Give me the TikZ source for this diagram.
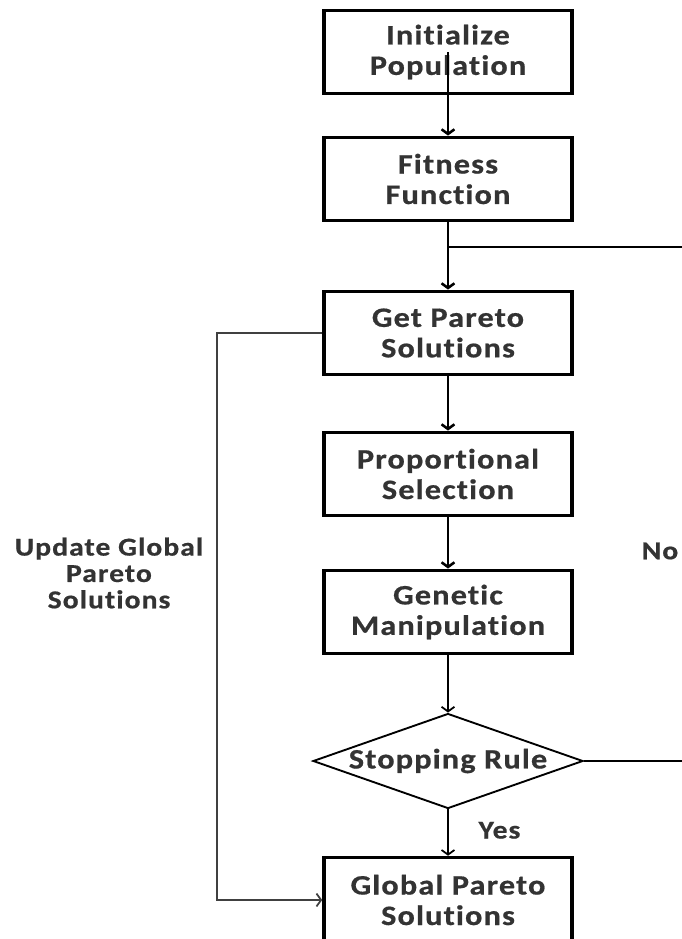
\documentclass[tikz,border=0pt]{standalone}
\usepackage{fontspec}
\setmainfont{Carlito}[LetterSpace=4, Ligatures=NoCommon, FakeStretch=1.15,
	BoldFeatures={FakeBold=0.6}]
\usepackage{tikz}
\usetikzlibrary{shapes.geometric, arrows.meta}

\begin{document}
\begin{tikzpicture}[
	x=0.03cm, y=-0.03cm,
	stepbox/.style={draw, line width=3pt, minimum width=7.44cm, minimum height=2.5cm,
		align=center, font=\fontsize{24}{26}\selectfont\bfseries, text=black!80},
	decision/.style={draw, diamond, line width=1.6pt, aspect=2.84, inner sep=0pt,
		minimum width=8.1cm, minimum height=2.85cm,
		font=\fontsize{24}{26}\selectfont\bfseries, text=black!80},
	lbl/.style={align=center, font=\fontsize{22}{22.5}\selectfont\bfseries, text=black!80},
	flow/.style={line width=2.2pt, -{Straight Barb[length=4pt, width=11pt]}},
	thin flow/.style={line width=1.5pt, -{Straight Barb[length=4pt, width=11pt]}},
	]
	
	\useasboundingbox (0,0) rectangle (682,939);
	
	%% ── Main column ─────────────────────────────────────────────
	\node[stepbox] (ip) at (448,52)  {Initialize\\Population};
	\node[stepbox] (ff) at (448,179) {Fitness\\Function};
	\node[stepbox] (gp) at (448,333) {Get Pareto\\Solutions};
	\node[stepbox] (ps) at (448,474) {Proportional\\Selection};
	\node[stepbox] (gm) at (448,612) {Genetic\\Manipulation};
	\node[decision] (sr) at (448,761) {Stopping Rule};
	\node[stepbox, minimum height=2.55cm] (gs) at (448,900) {Global Pareto\\Solutions};
	
	\coordinate (jn) at (448,247);
	\coordinate (rt) at (692,247);
	\coordinate (lf) at (217,333);
	
	\draw[flow] (ip.center) -- (ff.north);
	\draw[line width=2.2pt] (ff) -- (jn);
	\draw[flow] (jn) -- (gp);
	\draw[flow] (gp) -- (ps);
	\draw[flow] (ps) -- (gm);
	\draw[thin flow] (gm) -- (sr);
	\draw[thin flow] (sr) -- node[lbl, right=22pt, pos=0.45] {Yes} (gs);
	
	%% ── Loop back (No) ──────────────────────────────────────────
	\draw[line width=1.6pt] (sr.east) -- (sr.east -| rt) -- (rt) -- (jn);
	\node[lbl] (no) at (660,551) {No};
	
	%% ── Update loop ─────────────────────────────────────────────
	\draw[thin flow, draw=black!75] (gp.west) -- (lf) |- (gs.west);
	\node[lbl] (ug) at (109,573) {Update Global\\Pareto\\Solutions};
	
\end{tikzpicture}
\end{document}
